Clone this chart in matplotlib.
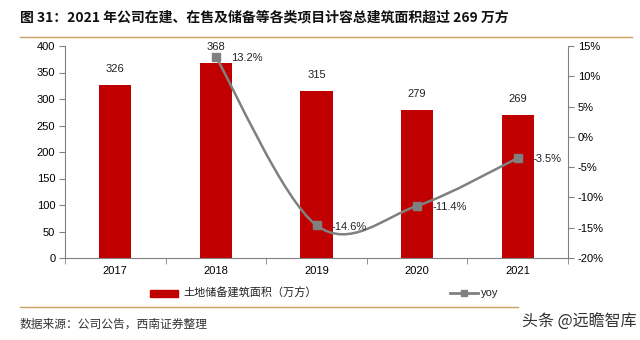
import matplotlib
matplotlib.use("Agg")
import matplotlib.pyplot as plt
from matplotlib.path import Path
from matplotlib.patches import PathPatch
from matplotlib.lines import Line2D

plt.rcParams['font.family'] = ['Liberation Sans', 'Noto Sans CJK SC', 'DejaVu Sans']
CJK = ['Noto Sans CJK SC', 'DejaVu Sans']

years = ["2017", "2018", "2019", "2020", "2021"]
area = [326, 368, 315, 279, 269]
yoy = [None, 13.2, -14.6, -11.4, -3.5]

title = "图 31：2021 年公司在建、在售及储备等各类项目计容总建筑面积超过 269 万方"
source = "数据来源：公司公告，西南证券整理"
watermark = "头条 @远瞻智库"
bar_label = "土地储备建筑面积（万方）"

BAR = "#C00000"
LINE = "#808080"
AX = "#808080"

fig = plt.figure(figsize=(6.4, 3.4), dpi=100)
ax = fig.add_axes([65 / 640, 1 - 258 / 340, 503 / 640, 212 / 340])

x = list(range(len(years)))
ax.bar(x, area, width=0.32, color=BAR, zorder=2)
for xi, v in zip(x, area):
    ax.annotate(str(v), (xi, v), xytext=(0, 8), textcoords="offset points",
                ha="center", va="bottom", fontsize=8, color="#222222")

ax.set_xlim(-0.5, len(years) - 0.5)
ax.set_ylim(0, 400)
ax.set_yticks(range(0, 401, 50))
ax.set_xticks(x)
ax.set_xticklabels(years)
ax.set_xticks([i - 0.5 for i in range(len(years) + 1)], minor=True)
ax.tick_params(axis="x", which="major", length=0, pad=6, labelsize=8)
ax.tick_params(axis="x", which="minor", length=4, color=AX, direction="out")
ax.tick_params(axis="y", length=4, color=AX, labelsize=8, pad=3)
for s in ["top", "right"]:
    ax.spines[s].set_visible(False)
for s in ["left", "bottom"]:
    ax.spines[s].set_color(AX)

ax2 = ax.twinx()
ax2.set_ylim(-20, 15)
ax2.set_yticks(range(-20, 16, 5))
ax2.set_yticklabels([f"{t}%" for t in range(-20, 16, 5)])
ax2.tick_params(axis="y", length=4, color=AX, labelsize=8, pad=3)
for s in ["top", "left", "bottom"]:
    ax2.spines[s].set_visible(False)
ax2.spines["right"].set_color(AX)

# smoothed line (Catmull-Rom as cubic Bezier segments)
pts = [(xi, v) for xi, v in zip(x, yoy) if v is not None]
verts = [pts[0]]
codes = [Path.MOVETO]
n = len(pts)
for i in range(n - 1):
    p0 = pts[i - 1] if i > 0 else pts[i]
    p1 = pts[i]
    p2 = pts[i + 1]
    p3 = pts[i + 2] if i + 2 < n else pts[i + 1]
    c1 = (p1[0] + (p2[0] - p0[0]) / 6, p1[1] + (p2[1] - p0[1]) / 6)
    c2 = (p2[0] - (p3[0] - p1[0]) / 6, p2[1] - (p3[1] - p1[1]) / 6)
    verts += [c1, c2, p2]
    codes += [Path.CURVE4] * 3
ax2.add_patch(PathPatch(Path(verts, codes), facecolor="none", edgecolor=LINE,
                        lw=1.8, zorder=3))
ax2.plot([p[0] for p in pts], [p[1] for p in pts], ls="none", marker="s",
         ms=6, color=LINE, zorder=4)
for px, py in pts:
    ax2.annotate(f"{py:.1f}%", (px, py), xytext=(11, -1), textcoords="offset points",
                 ha="left", va="center", fontsize=8, color="#222222", zorder=5)

# legend
fig.patches.append(plt.Rectangle((150 / 640, 1 - 297 / 340), 28 / 640, 7 / 340,
                                 transform=fig.transFigure, color=BAR))
fig.text(183 / 640, 1 - 293 / 340, bar_label, fontsize=8, family=CJK,
         va="center", ha="left", color="#222222")
fig.add_artist(Line2D([450 / 640, 478 / 640], [1 - 293 / 340] * 2, color=LINE, lw=2,
                      transform=fig.transFigure))
fig.add_artist(Line2D([464 / 640], [1 - 293 / 340], color=LINE, marker="s", ms=5,
                      transform=fig.transFigure))
fig.text(481 / 640, 1 - 293 / 340, "yoy", fontsize=8, va="center", ha="left",
         color="#222222")

# title, rules, source
fig.text(20 / 640, 1 - 17 / 340, title, fontsize=10, fontweight="bold", family=CJK,
         va="center", ha="left", color="#111111")
fig.add_artist(Line2D([20 / 640, 632 / 640], [1 - 37 / 340] * 2, color="#C9A064",
                      lw=1, transform=fig.transFigure))
fig.add_artist(Line2D([20 / 640, 518 / 640], [1 - 307 / 340] * 2, color="#C9A064",
                      lw=1, transform=fig.transFigure))
fig.text(20 / 640, 1 - 324 / 340, source, fontsize=8.5, family=CJK,
         va="center", ha="left", color="#333333")
fig.text(637 / 640, 1 - 322 / 340, watermark, fontsize=11.5, family=CJK,
         va="center", ha="right", color="#333333")

fig.savefig("out.png", dpi=100)
